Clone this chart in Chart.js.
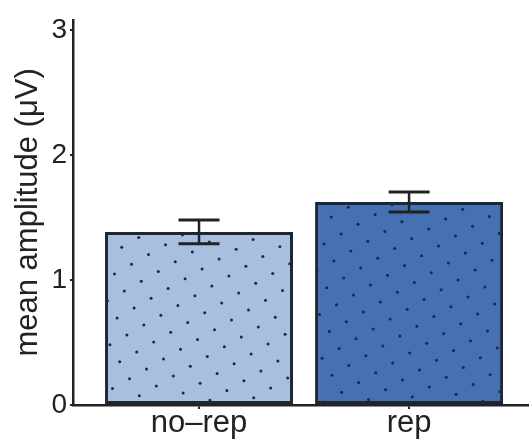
<!DOCTYPE html>
<html>
<head>
<meta charset="utf-8">
<script src="https://cdn.jsdelivr.net/npm/chart.js@4"></script>
<style>
  html, body { margin: 0; padding: 0; background: #ffffff; overflow: hidden; }
  #wrap { width: 529px; height: 448px; }
</style>
</head>
<body>
<div id="wrap"><canvas id="chart" width="529" height="448"></canvas></div>
<script>
// Condition labels and mean amplitude per condition (µV)
const categories = ['no–rep', 'rep'];
const meanAmplitude = [1.385, 1.625];
const standardError = [0.095, 0.08];
const yTickValues = [0, 1, 2, 3];
const categoryIndex = [0, 1];

const fillColors = ['#a8c0e0', '#4571b3'];
const dotColor = '#1c2840';
const inkColor = '#222222';
const fontFamily = '"Liberation Sans", Arial, Helvetica, sans-serif';

// Stipple texture: dots on a slanted lattice, clipped to the inside of each bar
const stippleA = { x: 26.8, y: 7.2 };
const stippleB = { x: 9.8, y: 17.0 };
const stipplePhase = [{ x: 121.7, y: 247.3 }, { x: 348.3, y: 207.3 }];

const stipple = {
  id: 'stipple',
  afterDatasetsDraw(chart) {
    const meta = chart.getDatasetMeta(0);
    const c = chart.ctx;
    meta.data.forEach((bar, i) => {
      const half = bar.width / 2;
      const inset = 3;
      const left = bar.x - half + inset, right = bar.x + half - inset;
      const top = Math.min(bar.y, bar.base) + inset, bottom = Math.max(bar.y, bar.base) - inset;
      c.save();
      c.beginPath();
      c.rect(left, top, right - left, bottom - top);
      c.clip();
      c.fillStyle = dotColor;
      const p0 = stipplePhase[i];
      for (let m = -30; m <= 30; m++) {
        for (let n = -30; n <= 30; n++) {
          const px = p0.x + m * stippleA.x + n * stippleB.x;
          const py = p0.y + m * stippleA.y + n * stippleB.y;
          if (px < left - 2 || px > right + 2 || py < top - 2 || py > bottom + 2) continue;
          c.beginPath();
          c.arc(px, py, 1.5, 0, Math.PI * 2);
          c.fill();
        }
      }
      c.restore();
    });
  }
};

// Error bars drawn on top of each bar, using the chart's own scales
const errorBars = {
  id: 'errorBars',
  afterDatasetsDraw(chart) {
    const meta = chart.getDatasetMeta(0);
    const y = chart.scales.y;
    const c = chart.ctx;
    c.save();
    c.strokeStyle = inkColor;
    c.lineCap = 'butt';
    meta.data.forEach((bar, i) => {
      const x = bar.x;
      const top = y.getPixelForValue(meanAmplitude[i] + standardError[i]);
      const bot = y.getPixelForValue(meanAmplitude[i] - standardError[i]);
      const half = 20.5;
      c.lineWidth = 2.5;
      c.beginPath();
      c.moveTo(x, top); c.lineTo(x, bot);
      c.stroke();
      c.lineWidth = 3;
      c.beginPath();
      c.moveTo(x - half, top); c.lineTo(x + half, top);
      c.moveTo(x - half, bot); c.lineTo(x + half, bot);
      c.stroke();
    });
    c.restore();
  }
};

new Chart(document.getElementById('chart'), {
  type: 'bar',
  data: {
    datasets: [{
      data: categoryIndex.map((i) => ({ x: i, y: meanAmplitude[i] })),
      backgroundColor: fillColors,
      borderColor: '#1d2633',
      borderWidth: 3,
      borderSkipped: false,
      categoryPercentage: 1.0,
      barPercentage: 0.895
    }]
  },
  options: {
    responsive: false,
    animation: false,
    devicePixelRatio: 1,
    layout: { padding: { top: 15, right: 0, bottom: 0, left: 0 } },
    plugins: { legend: { display: false }, tooltip: { enabled: false } },
    scales: {
      x: {
        type: 'linear',
        offset: false,
        min: -0.6,
        max: 1.571,
        afterBuildTicks: (s) => { s.ticks = categoryIndex.map((v) => ({ value: v })); },
        afterFit: (s) => { s.height = 43; },
        grid: { display: true, offset: false, drawOnChartArea: false, drawTicks: true, tickLength: 4, color: inkColor, lineWidth: 2 },
        border: { display: true, color: inkColor, width: 2.5 },
        ticks: {
          autoSkip: false,
          maxRotation: 0,
          padding: -1,
          color: inkColor,
          font: { family: fontFamily, size: 31, lineHeight: 1.0 },
          callback: (v) => categories[v]
        }
      },
      y: {
        min: 0,
        max: 3.083,
        afterBuildTicks: (s) => { s.ticks = yTickValues.map((v) => ({ value: v })); },
        afterFit: (s) => { s.width = 73; },
        grid: { display: true, drawOnChartArea: false, drawTicks: true, tickLength: 3, color: inkColor, lineWidth: 2 },
        border: { display: true, color: inkColor, width: 2.5 },
        ticks: {
          padding: 3,
          color: inkColor,
          font: { family: fontFamily, size: 28 }
        },
        title: {
          display: true,
          text: 'mean amplitude (μV)',
          color: inkColor,
          padding: { top: 10, bottom: 0 },
          font: { family: fontFamily, size: 31 }
        }
      }
    }
  },
  plugins: [stipple, errorBars]
});
</script>
</body>
</html>
